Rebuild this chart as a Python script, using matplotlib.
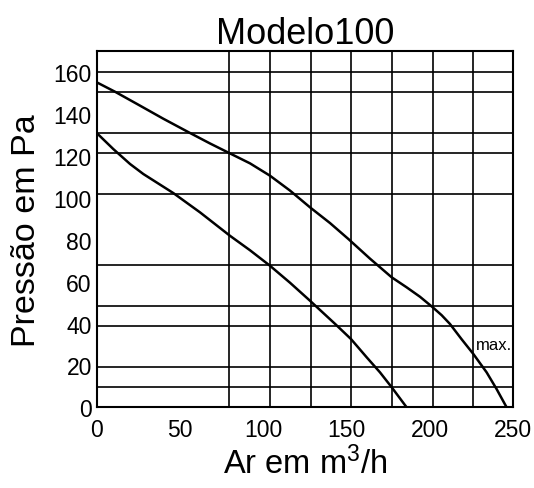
import matplotlib
matplotlib.use("Agg")
import matplotlib.pyplot as plt

plt.rcParams['font.family'] = ['Liberation Sans', 'DejaVu Sans']
plt.rcParams['mathtext.fontset'] = 'custom'
plt.rcParams['mathtext.rm'] = 'Liberation Sans'
plt.rcParams['mathtext.it'] = 'Liberation Sans'

# curves (air flow m3/h, pressure Pa)
max_x = [0, 11, 25, 40, 56, 68, 79.6, 92, 104, 116, 128, 140, 151, 164, 177, 186,
         194, 201.6, 207, 212, 219, 226, 234, 240, 246]
max_y = [155.2, 150.7, 144.5, 137.8, 131.0, 126.0, 121.4, 116.5, 110.6, 103.5, 95.5,
         88.0, 80.4, 71.0, 62.1, 57.3, 52.8, 47.8, 44.0, 39.8, 32.5, 25.5, 16.7, 8.7, 0]
min_x = [0, 10, 20, 28, 46, 62, 80, 92, 104, 116, 128, 143.1, 152.6, 162, 170, 177, 186]
min_y = [131.0, 123.3, 116.2, 111.4, 102.3, 93.1, 81.9, 75.0, 67.6, 59.5, 50.9,
         39.8, 32.6, 23.9, 16.7, 9.6, 0]

# irregular grid of the original chart
grid_x = [79.6, 104.0, 128.5, 152.6, 177.0, 201.7, 226.0]
grid_y = [9.6, 19.4, 38.9, 48.5, 68.0, 102.0, 121.4, 131.0, 150.7, 160.3]

xticks = [0, 50, 100, 150, 200, 250]
yticks = [0, 20, 40, 60, 80, 100, 120, 140, 160]

fig = plt.figure(figsize=(5.34, 4.89), dpi=100)
ax = fig.add_axes([0.1811, 0.165, 0.7801, 0.728])

for gx in grid_x:
    ax.axvline(gx, color='black', lw=1.2, zorder=1)
for gy in grid_y:
    ax.axhline(gy, color='black', lw=1.2, zorder=1)

ax.plot(max_x, max_y, color='black', lw=1.8, zorder=3)
ax.plot(min_x, min_y, color='black', lw=1.8, zorder=3)

ax.text(227.3, 30.2, 'max.', fontsize=12, ha='left', va='center', zorder=4)

ax.set_xlim(0, 250)
ax.set_ylim(0, 170)
ax.set_xticks(xticks)
ax.set_yticks(yticks)
ax.tick_params(length=0, labelsize=16.5)
ax.tick_params(axis='x', pad=8)
ax.tick_params(axis='y', pad=3.5)
for s in ax.spines.values():
    s.set_linewidth(1.5)

ax.set_title('Modelo100', fontsize=26, pad=5)
ax.set_xlabel('Ar em m$^3$/h', fontsize=23.5, labelpad=3)
ax.set_ylabel('Pressão em Pa', fontsize=24.5, labelpad=8)

fig.savefig('out.png', dpi=100)
